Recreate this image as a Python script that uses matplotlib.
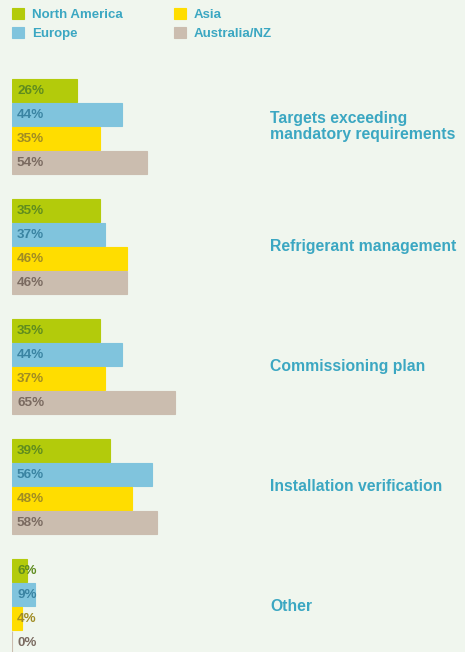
import matplotlib.pyplot as plt
import numpy as np

# Datos
categorias = ["Targets exceeding\nmandatory requirements", "Refrigerant management",
              "Commissioning plan", "Installation verification", "Other"]
regiones = ["North America", "Europe", "Asia", "Australia/NZ"]
north_america = [26, 35, 35, 39, 6]
europe = [44, 37, 44, 56, 9]
asia = [35, 46, 37, 48, 4]
australia_nz = [54, 46, 65, 58, 0]

series = [north_america, europe, asia, australia_nz]
colores = ["#B3CB0B", "#80C4DD", "#FFDD00", "#CBBDAF"]
colores_texto = ["#5F8C1F", "#3A84A2", "#A08C24", "#7A6A60"]
color_cat = "#3BA7C2"
fondo = "#F0F6EE"

W, H = 465, 652
fig = plt.figure(figsize=(W / 100, H / 100), dpi=100, facecolor=fondo)
ax = fig.add_axes([12 / W, 0, (W - 12) / W, 1])
ax.set_facecolor(fondo)

paso_grupo = 5
ax.set_xlim(0, (W - 12) / 2.5)
ax.set_ylim((H - 90.5) / 24, -90.5 / 24)
ax.axis("off")

for j, (vals, col, tcol) in enumerate(zip(series, colores, colores_texto)):
    ys = np.arange(len(categorias)) * paso_grupo + j
    ax.barh(ys, vals, height=0.92, color=col, edgecolor=col, linewidth=0.8,
            label=regiones[j])
    for y, v in zip(ys, vals):
        ax.annotate(f"{v}%", (0, y), xytext=(3.6, 0), textcoords="offset points",
                    va="center", ha="left", fontsize=9.7, fontweight="bold",
                    color=tcol, family="Liberation Sans")

for i, cat in enumerate(categorias):
    ax.text(103.2, i * paso_grupo + 1.5, cat, va="center", ha="left",
            fontsize=11.3, fontweight="bold", color=color_cat,
            family="Liberation Sans", linespacing=1.0)

fig.legend(loc="upper left", bbox_to_anchor=(12 / W, 1 - 8 / H), ncol=2,
           frameon=False, handlelength=0.92, handleheight=0.92,
           handletextpad=0.6, columnspacing=3.85, labelspacing=0.45,
           borderpad=0, borderaxespad=0, labelcolor=color_cat,
           prop={"family": "Liberation Sans", "weight": "bold", "size": 9.5})

fig.savefig("out.png", dpi=100, facecolor=fondo)
